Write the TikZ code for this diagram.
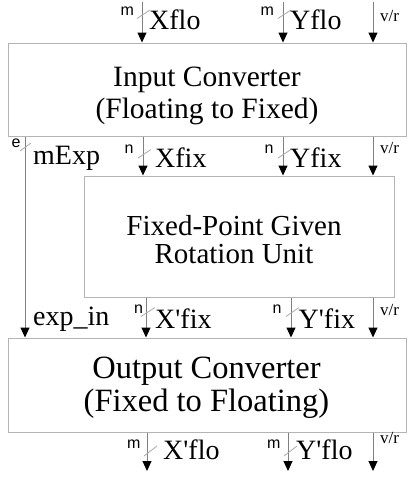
\documentclass[tikz,border=0pt]{standalone}
\usepackage{fontspec}
\setmainfont{Liberation Serif}
\newfontfamily\plainserif{Liberation Serif}
\newfontfamily\labsans{Liberation Sans}
\usetikzlibrary{arrows.meta}
\definecolor{linegray}{HTML}{808080}
\definecolor{boxgray}{HTML}{B4B4B4}
\definecolor{slashgray}{HTML}{AAAAAA}
\tikzset{
  blockbox/.style={draw=boxgray, line width=1pt, inner sep=0pt, fill=white},
  sig/.style={draw=linegray, line width=1pt, -{Triangle[length=10pt,width=9pt,color=black]}},
  buswidth/.style={draw=slashgray, line width=0.8pt},
  biglab/.style={inner sep=0pt, anchor=base west, font=\plainserif\fontsize{28}{28}\selectfont},
  smalllab/.style={inner sep=0pt, anchor=base west, font=\labsans\fontsize{16}{16}\selectfont},
  vrlab/.style={inner sep=0pt, anchor=base west, font=\plainserif\fontsize{17}{17}\selectfont},
  boxline/.style={inner sep=0pt, anchor=base},
}
\begin{document}
\begin{tikzpicture}[x=1pt,y=-1pt]
\useasboundingbox (0,0) rectangle (416,477);
% blocks
\node[blockbox, minimum width=398pt, minimum height=93pt] (b1) at (207,89.5) {};
\node[blockbox, minimum width=310pt, minimum height=121pt] (b2) at (239,236.5) {};
\node[blockbox, minimum width=398pt, minimum height=94pt] (b3) at (207,385) {};
\node[boxline, font=\fontsize{29.5}{29.5}\selectfont] (b1a) at (207,86.7) {Input Converter};
\node[boxline, font=\fontsize{29.5}{29.5}\selectfont] (b1b) at (207,118) {(Floating to Fixed)};
\node[boxline, font=\fontsize{29}{29}\selectfont] (b2a) at (234,235) {Fixed-Point Given};
\node[boxline, font=\fontsize{29}{29}\selectfont] (b2b) at (234,263.3) {Rotation Unit};
\node[boxline, font=\fontsize{32.5}{32.5}\selectfont] (b3a) at (206.5,378.3) {Output Converter};
\node[boxline, font=\fontsize{32.5}{32.5}\selectfont] (b3b) at (206.5,411.7) {(Fixed to Floating)};
% input coordinates
\coordinate (xflo) at (142,2);
\coordinate (yflo) at (283,2);
\coordinate (vr0) at (373,2);
% row 0
\draw[sig] (xflo) -- (xflo |- b1.north);
\draw[sig] (yflo) -- (yflo |- b1.north);
\draw[sig] (vr0) -- (vr0 |- b1.north);
\draw[buswidth] (137,18.5) -- (150,10);
\draw[buswidth] (278,18.5) -- (291,10);
\node[smalllab] (m0a) at (120.5,15.5) {m};
\node[smalllab] (m0b) at (260.5,15.5) {m};
\node[biglab] (l0a) at (149,29.5) {Xflo};
\node[biglab] (l0b) at (290,29.5) {Yflo};
\node[vrlab] (v0) at (380,21) {v/r};
% row 1
\coordinate (mexp) at (25,0 |- b1.south);
\coordinate (xfix) at (143,0 |- b1.south);
\coordinate (yfix) at (283,0 |- b1.south);
\coordinate (vr1) at (373,0 |- b1.south);
\draw[sig] (mexp) -- (mexp |- b3.north);
\draw[sig] (xfix) -- (xfix |- b2.north);
\draw[sig] (yfix) -- (yfix |- b2.north);
\draw[sig] (vr1) -- (vr1 |- b2.north);
\draw[buswidth] (20,151) -- (31,143);
\draw[buswidth] (138,158) -- (151,149.5);
\draw[buswidth] (278,158) -- (291,149.5);
\node[smalllab] (e1) at (11.5,147) {e};
\node[smalllab] (n1a) at (124.5,153) {n};
\node[smalllab] (n1b) at (264.5,153) {n};
\node[biglab] (l1e) at (33,164) {mExp};
\node[biglab] (l1a) at (155,167) {Xfix};
\node[biglab] (l1b) at (290,167) {Yfix};
\node[vrlab] (v1) at (380,153) {v/r};
% row 2
\coordinate (xpfix) at (146,0 |- b2.south);
\coordinate (ypfix) at (291,0 |- b2.south);
\coordinate (vr2) at (373,0 |- b2.south);
\draw[sig] (xpfix) -- (xpfix |- b3.north);
\draw[sig] (ypfix) -- (ypfix |- b3.north);
\draw[sig] (vr2) -- (vr2 |- b3.north);
\draw[buswidth] (141,316.5) -- (155,307.5);
\draw[buswidth] (286,316.5) -- (299,307.5);
\node[smalllab] (n2a) at (134,313.5) {n};
\node[smalllab] (n2b) at (272.5,313.5) {n};
\node[biglab] (l2e) at (33,325) {exp\_in};
\node[biglab] (l2a) at (155,328) {X'fix};
\node[biglab] (l2b) at (298.5,328) {Y'fix};
\node[vrlab] (v2) at (380,315) {v/r};
% row 3
\coordinate (xpflo) at (147,0 |- b3.south);
\coordinate (ypflo) at (288,0 |- b3.south);
\coordinate (vr3) at (373,0 |- b3.south);
\coordinate (xpfloend) at (147,471);
\coordinate (ypfloend) at (288,471);
\coordinate (vr3end) at (373,471);
\draw[sig] (xpflo) -- (xpfloend);
\draw[sig] (ypflo) -- (ypfloend);
\draw[sig] (vr3) -- (vr3end);
\draw[buswidth] (144,456) -- (157,446);
\draw[buswidth] (284,456) -- (297,446);
\node[smalllab] (m3a) at (127,448) {m};
\node[smalllab] (m3b) at (267,448) {m};
\node[biglab] (l3a) at (163,459) {X'flo};
\node[biglab] (l3b) at (296,459) {Y'flo};
\node[vrlab] (v3) at (380,443) {v/r};
\end{tikzpicture}
\end{document}
